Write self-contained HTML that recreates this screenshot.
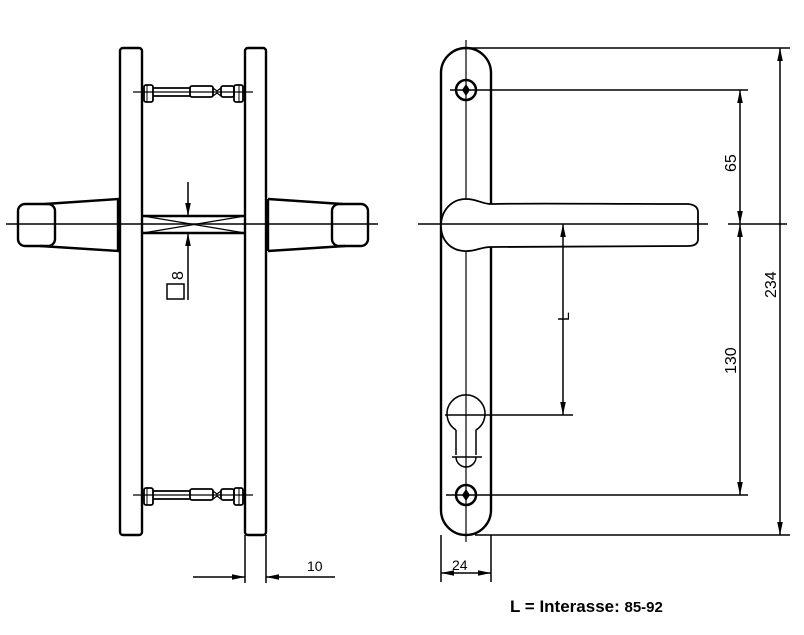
<!DOCTYPE html>
<html><head><meta charset="utf-8"><style>
html,body{margin:0;padding:0;background:#fff;}
svg{display:block}
text{font-family:"Liberation Sans",sans-serif;fill:#000}
</style></head><body>
<svg width="804" height="635" viewBox="0 0 804 635" xmlns="http://www.w3.org/2000/svg">
<defs>
<marker id="a" viewBox="0 0 10 10" refX="10" refY="5" markerWidth="13" markerHeight="7" orient="auto-start-reverse" markerUnits="userSpaceOnUse" preserveAspectRatio="none"><path d="M0,1 L10,5 L0,9 z" fill="#000"/></marker>
</defs>
<g fill="none" stroke="#000" stroke-width="2.4">
<!-- left view plates -->
<rect x="120" y="48" width="22" height="487" rx="3"/>
<rect x="245" y="48" width="21" height="487" rx="3"/>
<!-- screws -->
<g id="scr">
<rect x="144" y="85" width="9" height="17" rx="2" stroke-width="1.8"/>
<line x1="147" y1="85" x2="147" y2="102" stroke-width="1"/>
<rect x="234" y="85" width="9" height="17" rx="2" stroke-width="1.8"/>
<line x1="239" y1="85" x2="239" y2="102" stroke-width="1"/>
<line x1="153" y1="88" x2="190" y2="88" stroke-width="1.8"/>
<line x1="153" y1="96" x2="190" y2="96" stroke-width="1.8"/>
<rect x="190" y="86" width="23" height="11" rx="2" stroke-width="1.8"/>
<path d="M213,88 l4,3 l4,-3 M213,96 l4,-3 l4,3" stroke-width="1.2"/>
<rect x="221" y="86" width="13" height="11" rx="2" stroke-width="1.8"/>
<line x1="133" y1="92" x2="253" y2="92" stroke-width="1.2"/>
</g>
<use href="#scr" transform="translate(0,403)"/>
<!-- spindle -->
<line x1="143" y1="216" x2="245" y2="216"/>
<line x1="143" y1="233" x2="245" y2="233"/>
<path d="M143,216 L245,233 M143,233 L245,216" stroke-width="1.2"/>
<!-- left handle -->
<rect x="18" y="204" width="37" height="42" rx="7"/>
<path d="M45,204 L118,199 L118,251 L40,246" />
<rect x="332" y="204" width="36" height="42" rx="7"/>
<path d="M268,199 L342,204 M268,251 L345,246 M268,199 L268,251"/>
<line x1="6" y1="224" x2="378" y2="224" stroke-width="1.5"/>
<!-- 8 dim -->
<line x1="188" y1="182" x2="188" y2="216" stroke-width="1.5" marker-end="url(#a)"/>
<line x1="188" y1="300" x2="188" y2="233" stroke-width="1.5" marker-end="url(#a)"/>
<rect x="167" y="284" width="17" height="15" stroke-width="1.5"/>
<!-- 10 dim -->
<line x1="245" y1="535" x2="245" y2="583" stroke-width="1.5"/>
<line x1="266" y1="535" x2="266" y2="583" stroke-width="1.5"/>
<line x1="193" y1="577" x2="245" y2="577" stroke-width="1.5" marker-end="url(#a)"/>
<line x1="335" y1="577" x2="266" y2="577" stroke-width="1.5" marker-end="url(#a)"/>

<!-- right view plate -->
<path d="M441,73 A25,25 0 0 1 491,73 L491,510 A25,25 0 0 1 441,510 Z"/>
<line x1="466" y1="40" x2="466" y2="542" stroke-width="1.2"/>
<circle cx="466" cy="90" r="10" stroke-width="2.5"/>
<path d="M466,84 L470,90 L466,96 L462,90 Z" fill="#000" stroke="none"/>
<circle cx="466" cy="495" r="10" stroke-width="2.5"/>
<path d="M466,489 L470,495 L466,501 L462,495 Z" fill="#000" stroke="none"/>
<!-- handle -->
<path d="M491,204 C530,203 600,204 688,204 Q698,205 698,212 L698,239 Q698,246 688,246 L491,247 C480,247 475,252 464,251 C450,250 441,240 441,226 C441,210 452,199 466,199 C477,199 482,204 491,204 Z" fill="#fff" stroke-width="1.8"/>
<line x1="418" y1="224" x2="708" y2="224" stroke-width="1.5"/>
<!-- keyhole -->
<path d="M456,430 A19,19 0 1 1 476,430 L476,455 M456,430 L456,455 M456,457 A10,10 0 0 0 476,457" stroke-width="1.5"/>
<line x1="445" y1="415" x2="573" y2="415" stroke-width="1.5"/>
<line x1="452" y1="457" x2="482" y2="457" stroke-width="1.5"/>
<!-- extension lines -->
<line x1="466" y1="48" x2="790" y2="48" stroke-width="1.5"/>
<line x1="450" y1="90" x2="748" y2="90" stroke-width="1.5"/>
<line x1="728" y1="224" x2="787" y2="224" stroke-width="1.5"/>
<line x1="446" y1="495" x2="748" y2="495" stroke-width="1.5"/>
<line x1="475" y1="535" x2="790" y2="535" stroke-width="1.5"/>
<!-- dims -->
<line x1="740" y1="157" x2="740" y2="90" stroke-width="1.5" marker-end="url(#a)"/>
<line x1="740" y1="157" x2="740" y2="224" stroke-width="1.5" marker-end="url(#a)"/>
<line x1="740" y1="360" x2="740" y2="224" stroke-width="1.5" marker-end="url(#a)"/>
<line x1="740" y1="360" x2="740" y2="495" stroke-width="1.5" marker-end="url(#a)"/>
<line x1="780" y1="290" x2="780" y2="48" stroke-width="1.5" marker-end="url(#a)"/>
<line x1="780" y1="290" x2="780" y2="535" stroke-width="1.5" marker-end="url(#a)"/>
<line x1="563" y1="320" x2="563" y2="224" stroke-width="1.5" marker-end="url(#a)"/>
<line x1="563" y1="320" x2="563" y2="415" stroke-width="1.5" marker-end="url(#a)"/>
<!-- 24 -->
<line x1="441" y1="535" x2="441" y2="582" stroke-width="1.5"/>
<line x1="491" y1="535" x2="491" y2="582" stroke-width="1.5"/>
<line x1="466" y1="573" x2="441" y2="573" stroke-width="1.5" marker-end="url(#a)"/>
<line x1="466" y1="573" x2="491" y2="573" stroke-width="1.5" marker-end="url(#a)"/>
</g>
<text x="0" y="0" font-size="16" transform="translate(183,280) rotate(-90)">8</text>
<text x="307" y="571" font-size="14">10</text>
<text x="452" y="570" font-size="14">24</text>
<text font-size="16" transform="translate(736,172) rotate(-90)">65</text>
<text font-size="16" transform="translate(736,374) rotate(-90)">130</text>
<text font-size="16" transform="translate(776,298) rotate(-90)">234</text>
<text font-size="16" transform="translate(569,321) rotate(-90)">L</text>
<text x="510" y="612" font-size="17" font-weight="bold">L = Interasse: <tspan font-size="15">85-92</tspan></text>
</svg>
</body></html>
